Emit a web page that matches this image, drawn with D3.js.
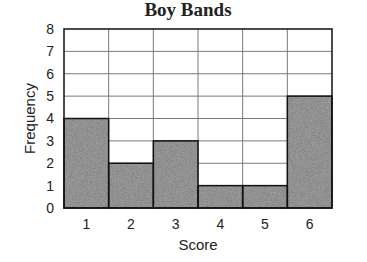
<!DOCTYPE html>
<html>
<head>
<meta charset="utf-8">
<script src="https://cdn.jsdelivr.net/npm/d3@7"></script>
<style>
  body { margin: 0; background: #fff; }
  text { font-family: "Liberation Sans", Arial, sans-serif; fill: #222; }
</style>
</head>
<body>
<script>
// data
var scores = [1, 2, 3, 4, 5, 6];
var frequency = [4, 2, 3, 1, 1, 5];
var yTicks = [0, 1, 2, 3, 4, 5, 6, 7, 8];

var w = 367, h = 262;
var margin = {top: 29, right: 35, bottom: 54, left: 64};

var svg = d3.select("body").append("svg")
  .attr("width", w)
  .attr("height", h);

// grainy grey fill for the bars
var defs = svg.append("defs");
var filt = defs.append("filter").attr("id", "grain");
filt.append("feTurbulence")
  .attr("type", "fractalNoise")
  .attr("baseFrequency", 1.2)
  .attr("numOctaves", 2)
  .attr("result", "noise");
filt.append("feColorMatrix")
  .attr("type", "matrix")
  .attr("values", "0 0 0 0 0  0 0 0 0 0  0 0 0 0 0  0 0 0 0.55 0")
  .attr("result", "dots");
filt.append("feComposite")
  .attr("in", "dots")
  .attr("in2", "SourceGraphic")
  .attr("operator", "in")
  .attr("result", "clipped");
var merge = filt.append("feMerge");
merge.append("feMergeNode").attr("in", "SourceGraphic");
merge.append("feMergeNode").attr("in", "clipped");

var x = d3.scaleBand()
  .domain(scores)
  .range([margin.left, w - margin.right])
  .padding(0);

var y = d3.scaleLinear()
  .domain([0, 8])
  .range([h - margin.bottom, margin.top]);

var g = svg.append("g");

// horizontal grid
g.selectAll(".hgrid")
  .data(yTicks.slice(1, -1))
  .enter().append("line")
  .attr("x1", margin.left)
  .attr("x2", w - margin.right)
  .attr("y1", function(d) { return y(d); })
  .attr("y2", function(d) { return y(d); })
  .style("stroke", "#7a7a7a")
  .style("stroke-width", 1);

// vertical grid
g.selectAll(".vgrid")
  .data(scores.slice(1))
  .enter().append("line")
  .attr("x1", function(d) { return x(d); })
  .attr("x2", function(d) { return x(d); })
  .attr("y1", margin.top)
  .attr("y2", h - margin.bottom)
  .style("stroke", "#7a7a7a")
  .style("stroke-width", 1);

// bars
g.selectAll(".bar")
  .data(frequency)
  .enter().append("rect")
  .attr("x", function(d, i) { return x(scores[i]); })
  .attr("y", function(d) { return y(d); })
  .attr("width", x.bandwidth())
  .attr("height", function(d) { return y(0) - y(d); })
  .style("fill", "#a8a8a8")
  .style("filter", "url(#grain)");

g.selectAll(".barline")
  .data(frequency)
  .enter().append("rect")
  .attr("x", function(d, i) { return x(scores[i]); })
  .attr("y", function(d) { return y(d); })
  .attr("width", x.bandwidth())
  .attr("height", function(d) { return y(0) - y(d); })
  .style("fill", "none")
  .style("stroke", "#111")
  .style("stroke-width", 1.5);

// frame
svg.append("rect")
  .attr("x", margin.left)
  .attr("y", margin.top)
  .attr("width", w - margin.left - margin.right)
  .attr("height", h - margin.top - margin.bottom)
  .style("fill", "none")
  .style("stroke", "#111")
  .style("stroke-width", 1.5);

// y axis
var yAxis = d3.axisLeft(y).tickValues(yTicks).tickSize(0).tickPadding(10);
var ya = svg.append("g")
  .attr("transform", "translate(" + margin.left + ",0)")
  .call(yAxis);
ya.select(".domain").remove();
ya.selectAll("text").style("font-size", "14px").style("font-family", "Liberation Sans, Arial, sans-serif").style("fill", "#222");

// x axis
var xAxis = d3.axisBottom(x).tickSize(0).tickPadding(11);
var xa = svg.append("g")
  .attr("transform", "translate(0," + (h - margin.bottom) + ")")
  .call(xAxis);
xa.select(".domain").remove();
xa.selectAll("text").style("font-size", "14px").style("font-family", "Liberation Sans, Arial, sans-serif").style("fill", "#222");

// labels
svg.append("text")
  .attr("x", 188)
  .attr("y", 16)
  .attr("text-anchor", "middle")
  .style("font-family", "Liberation Serif, DejaVu Serif, serif")
  .style("font-weight", "bold")
  .style("font-size", "19px")
  .text("Boy Bands");

svg.append("text")
  .attr("x", (margin.left + w - margin.right) / 2)
  .attr("y", 250)
  .attr("text-anchor", "middle")
  .style("font-size", "15px")
  .text("Score");

svg.append("text")
  .attr("transform", "translate(35," + ((margin.top + h - margin.bottom) / 2) + ") rotate(-90)")
  .attr("text-anchor", "middle")
  .style("font-size", "15px")
  .text("Frequency");
</script>
</body>
</html>
